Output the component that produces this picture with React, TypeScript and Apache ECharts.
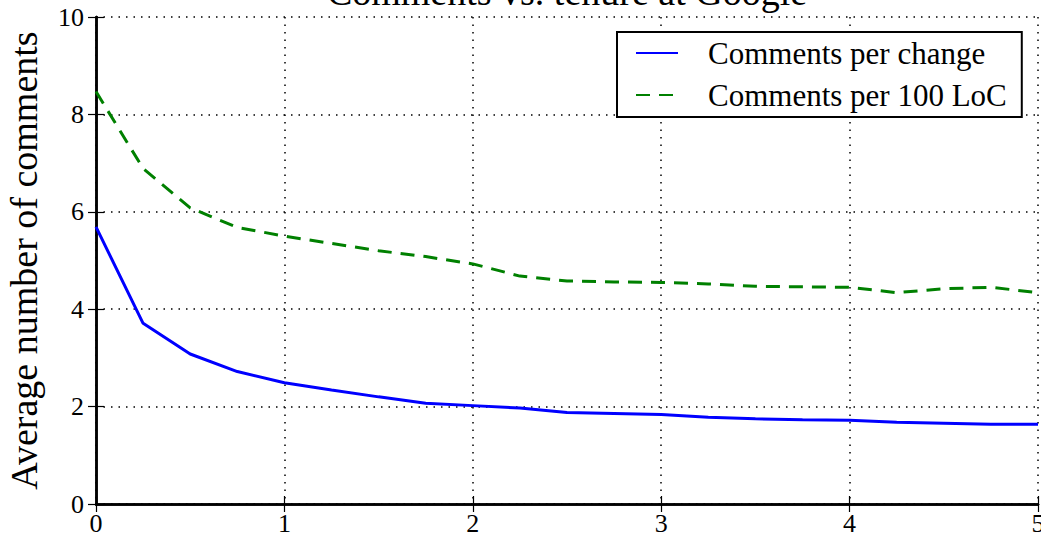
import React, { useEffect, useRef } from "react";
import * as echarts from "echarts";

const tenureYears = [0, 0.25, 0.5, 0.75, 1, 1.25, 1.5, 1.75, 2, 2.25, 2.5, 2.75, 3, 3.25, 3.5, 3.75, 4, 4.25, 4.5, 4.75, 5];
const commentsPerChange = [5.69, 3.71, 3.08, 2.72, 2.49, 2.34, 2.2, 2.07, 2.02, 1.97, 1.88, 1.86, 1.84, 1.78, 1.75, 1.73, 1.72, 1.68, 1.66, 1.64, 1.64];
const commentsPer100LoC = [8.47, 6.89, 6.08, 5.68, 5.5, 5.35, 5.2, 5.08, 4.93, 4.68, 4.58, 4.56, 4.55, 4.52, 4.47, 4.46, 4.45, 4.34, 4.42, 4.45, 4.34];
const seriesNames = ["Comments per change", "Comments per 100 LoC"];
const titleText = "Comments vs. tenure at Google";
const yAxisTitle = "Average number of comments";

const FONT = '"Liberation Serif", "Times New Roman", serif';

export default function App() {
  const ref = useRef<HTMLDivElement>(null);
  useEffect(() => {
    if (!ref.current) return;
    const chart = echarts.init(ref.current, undefined, { renderer: "svg" });
    const axisLine = { show: true, lineStyle: { color: "#000", width: 2.5 } };
    const tick = { show: true, inside: true, length: 8, lineStyle: { color: "#000", width: 1.2 } };
    const grid = { show: true, lineStyle: { color: "#000", width: 1.5, type: [1.5, 6] } };
    chart.setOption({
      animation: false,
      backgroundColor: "#fff",
      title: {
        text: titleText,
        left: 567,
        top: -27,
        textAlign: "center",
        padding: 0,
        textStyle: { fontFamily: FONT, fontSize: 38, fontWeight: "normal", color: "#000" },
      },
      grid: { left: 96, right: 3, top: 17, bottom: 38, containLabel: false, outerBoundsMode: "none" },
      legend: {
        orient: "vertical",
        left: 617,
        top: 32,
        data: seriesNames,
        borderColor: "#000",
        borderWidth: 2,
        borderRadius: 0,
        backgroundColor: "#fff",
        padding: [4, 15, 5, 18],
        itemWidth: 42,
        itemHeight: 14,
        itemGap: 8,
        itemStyle: { opacity: 0 },
        textStyle: { fontFamily: FONT, fontSize: 31, color: "#000", lineHeight: 34, padding: [0, 0, 0, 25] },
      },
      xAxis: [
        {
          type: "value",
          min: 0,
          max: 5,
          interval: 1,
          axisLine,
          axisTick: tick,
          splitLine: grid,
          axisLabel: { fontFamily: FONT, fontSize: 26, color: "#000", margin: 6 },
        },
        {
          type: "value",
          position: "top",
          min: 0,
          max: 5,
          interval: 1,
          axisLine,
          axisTick: tick,
          splitLine: { show: false },
          axisLabel: { show: false },
        },
      ],
      yAxis: [
        {
          type: "value",
          min: 0,
          max: 10,
          interval: 2,
          axisLine,
          axisTick: tick,
          splitLine: grid,
          axisLabel: { fontFamily: FONT, fontSize: 26, color: "#000", margin: 12 },
          name: yAxisTitle,
          nameLocation: "middle",
          nameGap: 53,
          nameRotate: 90,
          nameTextStyle: { fontFamily: FONT, fontSize: 38, color: "#000" },
        },
        {
          type: "value",
          position: "right",
          min: 0,
          max: 10,
          interval: 2,
          axisLine,
          axisTick: tick,
          splitLine: { show: false },
          axisLabel: { show: false },
        },
      ],
      series: [
        {
          name: seriesNames[0],
          type: "line",
          data: tenureYears.map((x, i) => [x, commentsPerChange[i]]),
          symbol: "none",
          lineStyle: { color: "#0000ff", width: 3 },
          itemStyle: { color: "#0000ff" },
        },
        {
          name: seriesNames[1],
          type: "line",
          data: tenureYears.map((x, i) => [x, commentsPer100LoC[i]]),
          symbol: "none",
          lineStyle: { color: "#008000", width: 3, type: [14, 9] },
          itemStyle: { color: "#008000" },
        },
      ],
    });
    return () => chart.dispose();
  }, []);
  return <div ref={ref} style={{ position: "fixed", left: 0, top: 0, width: 1041, height: 542 }} />;
}
